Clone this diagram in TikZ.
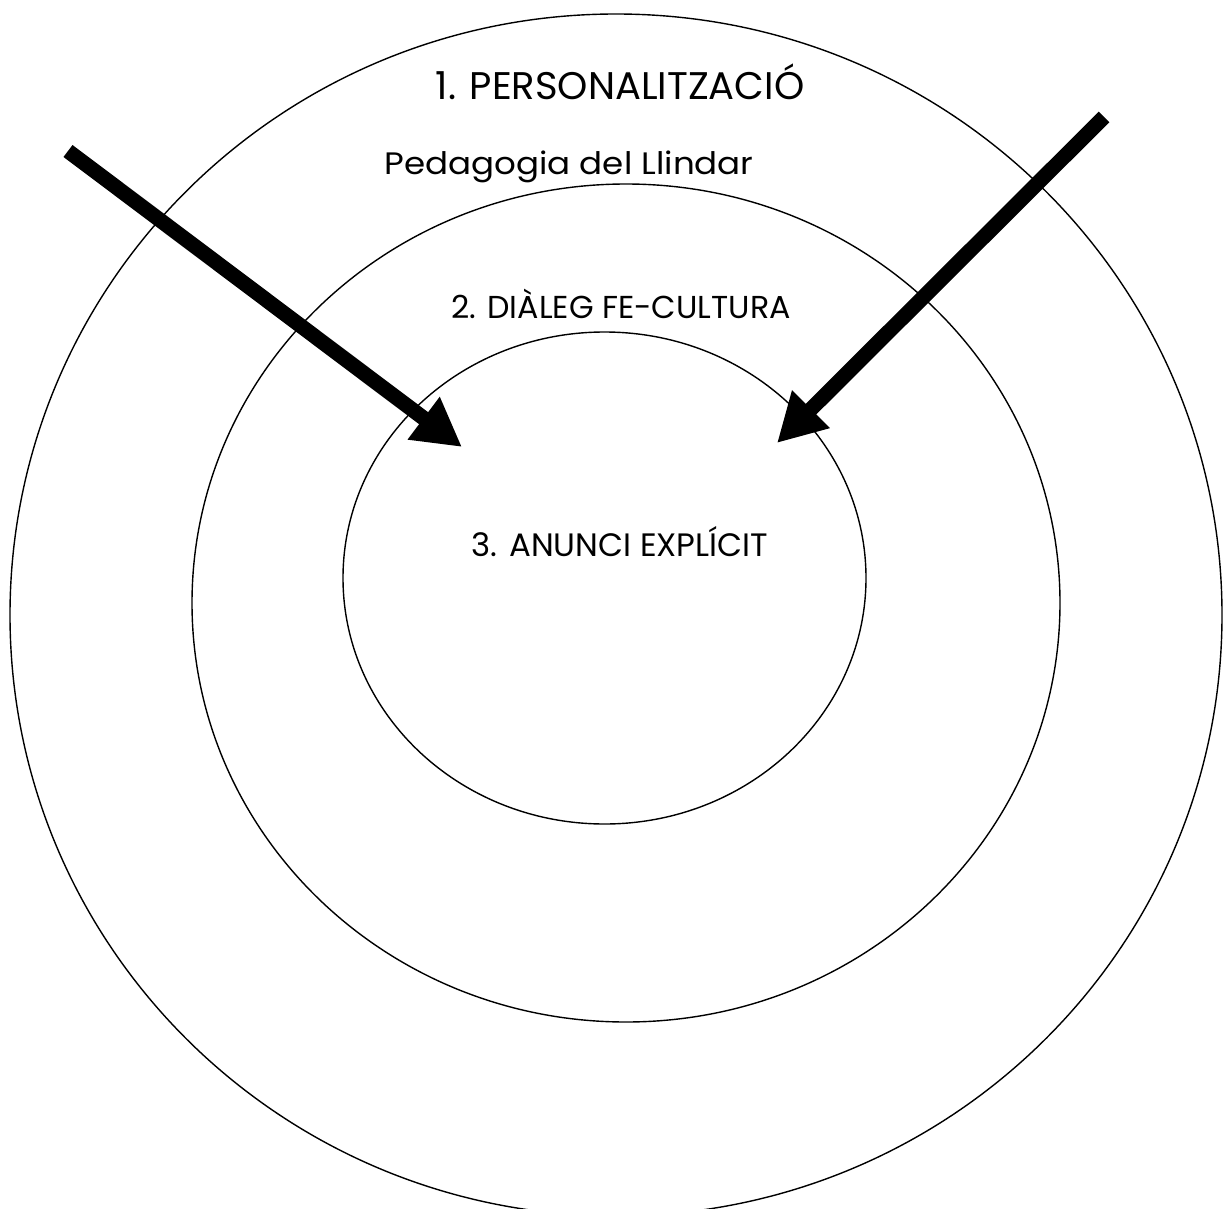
\documentclass[tikz,border=0pt]{standalone}
\usepackage{fontspec}
\setmainfont{Poppins}
\usetikzlibrary{arrows.meta}
\begin{document}
\begin{tikzpicture}[x=1pt,y=-1pt,
  ring/.style={draw=black,line width=1.4pt},
  bigarrow/.style={draw=black,line width=15pt,-{Triangle[length=48pt,width=50pt]}},
  lbl/.style={anchor=base,inner sep=0pt,text=black}]
\useasboundingbox (0,0) rectangle (1223,1209);
\clip (0,0) rectangle (1223,1209);
\fill[white] (0,0) rectangle (1223,1209);
% rings
\draw[ring] (616,615) ellipse [x radius=606, y radius=601];
\draw[ring] (626,603) ellipse [x radius=434, y radius=419];
\draw[ring] (604.5,578) ellipse [x radius=261.5, y radius=246];
% labels
\node[lbl,font=\fontsize{38.5}{44}\selectfont] (t1) at (620,100) {1. PERSONALITZACIÓ};
\node[lbl,font=\fontsize{31}{36}\selectfont] (t0) at (569,175) {\scalebox{1.1}[1]{Pedagogia del Llindar}};
\node[lbl,font=\fontsize{31.7}{36}\selectfont] (t2) at (621,318) {2. DIÀLEG FE-CULTURA};
\node[lbl,font=\fontsize{32.4}{37}\selectfont] (t3) at (620,556) {3. ANUNCI EXPLÍCIT};
% arrows
\coordinate (a1s) at (68,151);
\coordinate (a1e) at (462,447);
\coordinate (a2s) at (1104,117);
\coordinate (a2e) at (777,443);
\draw[bigarrow] (a1s) -- (a1e);
\draw[bigarrow] (a2s) -- (a2e);
\end{tikzpicture}
\end{document}
